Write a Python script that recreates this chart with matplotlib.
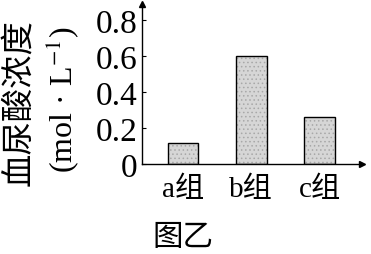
import matplotlib
matplotlib.use("Agg")
import matplotlib.pyplot as plt

plt.rcParams['font.family'] = ['Liberation Serif', 'Noto Sans CJK SC']
plt.rcParams['mathtext.fontset'] = 'stix'
plt.rcParams['hatch.linewidth'] = 0.6

groups = ['a组', 'b组', 'c组']
values = [0.115, 0.6, 0.263]
yticks = [0, 0.2, 0.4, 0.6, 0.8]
yticklabels = ['0', '0.2', '0.4', '0.6', '0.8']

fig = plt.figure(figsize=(3.71, 2.55), dpi=100)
ax = fig.add_axes([142/371, 90/255, 220/371, 160/255])

# stippled fill, then black outline on top
x = range(len(groups))
ax.bar(x, values, width=0.45, color='#d6d6d6', edgecolor='#a8a8a8',
       linewidth=0, hatch='....')
ax.bar(x, values, width=0.45, fill=False, edgecolor='black', linewidth=1.0)

ax.set_xlim(-0.6, 2.62)
ax.set_ylim(0, 0.889)
ax.set_yticks(yticks)
ax.set_yticklabels(yticklabels, fontsize=24)
ax.set_xticks(range(len(groups)))
ax.set_xticklabels(groups, fontsize=21)
ax.tick_params(axis='y', direction='in', length=3, width=0.8, pad=3)
ax.tick_params(axis='x', length=0, pad=8)

for s in ['top', 'right']:
    ax.spines[s].set_visible(False)
for s in ['left', 'bottom']:
    ax.spines[s].set_linewidth(1.0)

# arrow heads
ax.plot(0, 1, marker='^', color='black', markersize=5, transform=ax.transAxes, clip_on=False)
ax.plot(1, 0, marker='>', color='black', markersize=5, transform=ax.transAxes, clip_on=False)

# y label, two lines
fig.text(19/371, 1 - 103/255, '血尿酸浓度', rotation=90, fontsize=24,
         ha='center', va='center', family=['Noto Sans CJK SC'])
fig.text(62/371, 1 - 100/255, r'(mol · L$^{-1}$)', rotation=90, fontsize=23,
         ha='center', va='center')

fig.text(183/371, 1 - 238/255, '图乙', fontsize=22, ha='center', va='center',
         family=['Noto Sans CJK SC'])

fig.savefig('out.png', dpi=100)
